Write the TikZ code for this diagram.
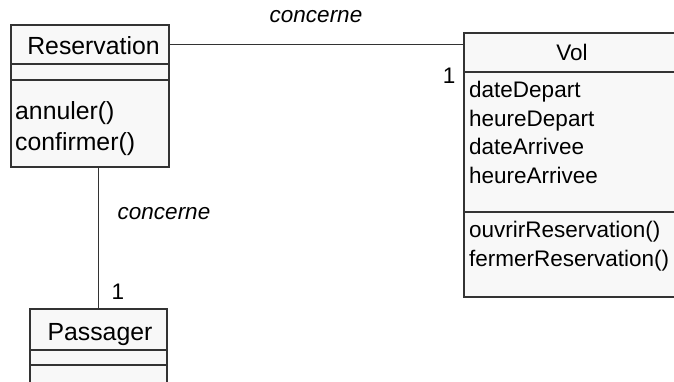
\documentclass[tikz,border=0pt]{standalone}
\usepackage{fontspec}
\setmainfont{Liberation Sans}
\usetikzlibrary{positioning}
\definecolor{umlline}{HTML}{333333}
\definecolor{umlfill}{HTML}{F8F8F8}

\begin{document}
\begin{tikzpicture}[x=1pt, y=-1pt,
  comp/.style={draw=umlline, fill=umlfill, line width=1.6pt, anchor=north west, inner sep=0pt},
  big/.style={font=\fontsize{24.8}{31}\selectfont},
  small/.style={font=\fontsize{22.5}{28.4}\selectfont},
  assoc/.style={draw=umlline, line width=1.4pt},
  role/.style={font=\fontsize{22.5}{28}\selectfont\itshape}]

  \clip (0,0) rectangle (674,382);

  % Reservation
  \node[comp, minimum width=158pt, minimum height=39pt] (resName) at (10,24) {};
  \node[big] (resTitle) at (93.5,46) {Reservation};
  \node[comp, minimum width=158pt, minimum height=16pt] (resAttr) at (10,63) {};
  \node[comp, minimum width=158pt, minimum height=87pt] (resMeth) at (10,79) {};
  \node[big, align=left, anchor=west, inner sep=3pt] (resOps) at (12,128.5)
    {annuler()\\confirmer()};

  % Vol
  \node[comp, minimum width=218pt, minimum height=39pt] (volName) at (463,32) {};
  \node[small] (volTitle) at (572,52) {Vol};
  \node[comp, minimum width=218pt, minimum height=140pt] (volAttr) at (463,71) {};
  \node[comp, minimum width=218pt, minimum height=85pt] (volMeth) at (463,211) {};
  \node[small, align=left, anchor=west, inner sep=3pt] (volAttrTxt) at (466,132.5)
    {dateDepart\\heureDepart\\dateArrivee\\heureArrivee};
  \node[small, align=left, anchor=west, inner sep=3pt] (volOps) at (466,246)
    {ouvrirReservation()\\fermerReservation()};

  % Passager
  \node[comp, minimum width=137pt, minimum height=41pt] (pasName) at (29,308) {};
  \node[big, anchor=base] (pasTitle) at (100,340) {Passager};
  \node[comp, minimum width=137pt, minimum height=15pt] (pasAttr) at (29,349) {};
  \node[comp, minimum width=137pt, minimum height=40pt] (pasMeth) at (29,364) {};

  % associations
  \draw[assoc] (resName.east) -- (resName.east -| volName.west);
  \node[role] (roleTop) at (316,17) {concerne};
  \node[small] (mulVol) at (449,76) {1};

  \draw[assoc] (pasName.north) -- (pasName.north |- resMeth.south);
  \node[role] (roleLeft) at (164,214) {concerne};
  \node[small] (mulPas) at (118,292) {1};
\end{tikzpicture}
\end{document}
